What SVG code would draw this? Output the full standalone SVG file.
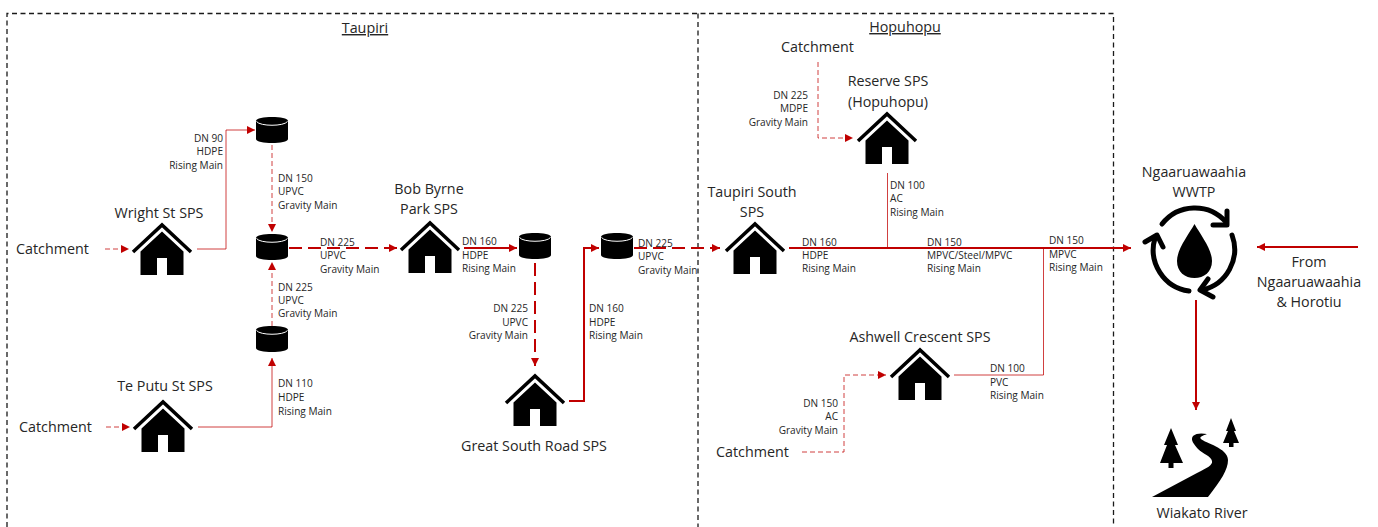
<svg xmlns="http://www.w3.org/2000/svg" width="1378" height="527" viewBox="0 0 1378 527">
<style>
text{font-family:"Open Sans","Noto Sans","Liberation Sans",sans-serif;fill:#262626}
.l{font-size:14.3px}
.s{font-size:10.1px;fill:#404040}
.e{text-anchor:end}
.m{text-anchor:middle}
.box{fill:none;stroke:#1a1a1a;stroke-width:1.3;stroke-dasharray:5 3.5}
.c{fill:none;stroke:#c00000}
.t1{stroke-width:1;stroke-opacity:.75}
.t2{stroke-width:2}
.d1{stroke-dasharray:5 3}
.d2{stroke-dasharray:13 6}
</style>
<defs>
<marker id="a" markerUnits="userSpaceOnUse" markerWidth="10" markerHeight="10" refX="8" refY="4" orient="auto"><path d="M0 0L8 4L0 8Z" fill="#c00000"/></marker>
<symbol id="house" overflow="visible"><path d="M-29 27L0 0L29 27" fill="none" stroke="#000" stroke-width="3.500"/><path fill="#000" d="M0 6.500L21.500 26.500V50H5V33H-5V50H-21.500V26.500Z"/></symbol>
<symbol id="cyl" overflow="visible"><path fill="#000" d="M-16 4C-16 -1.300 16 -1.300 16 4V22C16 27.300 -16 27.300 -16 22Z"/><path d="M-15.500 4.500C-12 9.500 12 9.500 15.500 4.500" fill="none" stroke="#fff" stroke-width="1"/></symbol>
</defs>
<g id="region-boxes">
<path class="box" d="M7 527V13.500H1113.500V527"/>
<path class="box" d="M698 13.500V527"/>
</g>
<g id="connectors">
<path class="c t1 d1" marker-end="url(#a)" d="M105 249H129"/>
<path class="c t1" marker-end="url(#a)" d="M197 249H226V130H255"/>
<path class="c t1 d1" marker-end="url(#a)" d="M272 145V232"/>
<path class="c t1 d1" marker-end="url(#a)" d="M272 326V262"/>
<path class="c t1" marker-end="url(#a)" d="M198 427H272V358"/>
<path class="c t1 d1" marker-end="url(#a)" d="M106 427H130"/>
<path class="c t2 d2" marker-end="url(#a)" d="M289 248H397"/>
<path class="c t2" marker-end="url(#a)" d="M464 248H517"/>
<path class="c t2 d2" marker-end="url(#a)" d="M535 263V366"/>
<path class="c t2" marker-end="url(#a)" d="M569 401H584V248H599"/>
<path class="c t2 d2" marker-end="url(#a)" d="M634 248H720"/>
<path class="c t2" marker-end="url(#a)" d="M789 248H1131"/>
<path class="c t1" d="M887.500 173V248"/>
<path class="c t1" d="M954 375H1043.500V248"/>
<path class="c t1 d1" marker-end="url(#a)" d="M802 452H844V375H886"/>
<path class="c t1 d1" marker-end="url(#a)" d="M818 62V138H853"/>
<path class="c t2" marker-end="url(#a)" d="M1358 247H1257"/>
<path class="c t2" marker-end="url(#a)" d="M1196 300V410"/>
</g>
<g id="labels-regions">
<text class="l m" x="365" y="33" text-decoration="underline">Taupiri</text>
<text class="l m" x="905" y="32" text-decoration="underline">Hopuhopu</text>
</g>
<g id="wright-st-sps"><text class="l m" x="159" y="218">Wright St SPS</text><use href="#house" x="162" y="225"/></g>
<g id="te-putu-st-sps"><text class="l m" x="165" y="391">Te Putu St SPS</text><use href="#house" x="163" y="402"/></g>
<g id="bob-byrne-park-sps"><text class="l m" x="429" y="194">Bob Byrne</text><text class="l m" x="429" y="214">Park SPS</text><use href="#house" x="430" y="223"/></g>
<g id="great-south-road-sps"><use href="#house" x="535" y="376"/><text class="l m" x="534" y="451">Great South Road SPS</text></g>
<g id="taupiri-south-sps"><text class="l m" x="752" y="197">Taupiri South</text><text class="l m" x="752" y="217">SPS</text><use href="#house" x="755" y="224"/></g>
<g id="reserve-sps"><text class="l m" x="888" y="86">Reserve SPS</text><text class="l m" x="888" y="107">(Hopuhopu)</text><use href="#house" x="887" y="114"/></g>
<g id="ashwell-crescent-sps"><text class="l m" x="920" y="342">Ashwell Crescent SPS</text><use href="#house" x="920" y="350"/></g>
<g id="catchments">
<text class="l" x="16" y="254">Catchment</text>
<text class="l" x="19" y="432">Catchment</text>
<text class="l" x="781" y="52">Catchment</text>
<text class="l" x="716" y="457">Catchment</text>
</g>
<g id="chamber-1"><use href="#cyl" x="272" y="117"/></g>
<g id="chamber-2"><use href="#cyl" x="272" y="234"/></g>
<g id="chamber-3"><use href="#cyl" x="272" y="326"/></g>
<g id="chamber-4"><use href="#cyl" x="535" y="233"/></g>
<g id="chamber-5"><use href="#cyl" x="617" y="233"/></g>
<g id="ngaaruawaahia-wwtp">
<text class="l m" x="1194" y="177">Ngaaruawaahia</text><text class="l m" x="1194" y="197">WWTP</text>
<path fill="#000" d="M1194.500 224C1200 234 1212 249 1212 261C1212 272 1204 278 1194.500 278C1185 278 1177 272 1177 261C1177 249 1189 234 1194.500 224Z"/>
<g fill="none" stroke="#000" stroke-width="5" stroke-linecap="round" stroke-linejoin="round">
<path d="M1162 224A41.500 41.500 0 0 1 1226 222"/><path d="M1227 211V225H1213"/>
<path d="M1232 235A41.500 41.500 0 0 1 1202 290"/><path d="M1213 297L1200 290L1208 279"/>
<path d="M1189 291A41.500 41.500 0 0 1 1155 238"/><path d="M1145 242L1157 235L1163 247"/>
</g>
</g>
<g id="wiakato-river">
<path fill="#000" d="M1152 497L1197 473C1207 468 1213 465 1212 461C1211 456 1203 454 1198 449C1194 444 1190 440 1193 436C1196 433 1202 433 1207 434C1202 436 1199 437 1201 439C1205 443 1228 448 1228 460C1228 470 1221 480 1208 497Z"/>
<path fill="#000" d="M1171 428L1178 445H1175L1183 463H1173.500V468H1168.500V463H1160L1167 445H1164Z"/>
<path fill="#000" d="M1231 418L1236 431H1234L1239 443H1233.500V447H1229V443H1223L1228 431H1226Z"/>
<text class="l m" x="1202" y="518">Wiakato River</text>
</g>
<g id="from-ngaaruawaahia-horotiu">
<text class="l m" x="1309" y="267">From</text><text class="l m" x="1309" y="287">Ngaaruawaahia</text><text class="l m" x="1309" y="307">&amp; Horotiu</text>
</g>
<g id="pipe-labels">
<g class="s e"><text x="223" y="142">DN 90</text><text x="223" y="155">HDPE</text><text x="223" y="169">Rising Main</text></g>
<g class="s"><text x="278" y="182">DN 150</text><text x="278" y="195">UPVC</text><text x="278" y="209">Gravity Main</text></g>
<g class="s"><text x="320" y="246">DN 225</text><text x="320" y="259">UPVC</text><text x="320" y="273">Gravity Main</text></g>
<g class="s"><text x="278" y="291">DN 225</text><text x="278" y="304">UPVC</text><text x="278" y="317">Gravity Main</text></g>
<g class="s"><text x="278" y="387">DN 110</text><text x="278" y="401">HDPE</text><text x="278" y="415">Rising Main</text></g>
<g class="s"><text x="462" y="245">DN 160</text><text x="462" y="259">HDPE</text><text x="462" y="272">Rising Main</text></g>
<g class="s e"><text x="528" y="312">DN 225</text><text x="528" y="326">UPVC</text><text x="528" y="339">Gravity Main</text></g>
<g class="s"><text x="589" y="312">DN 160</text><text x="589" y="326">HDPE</text><text x="589" y="339">Rising Main</text></g>
<g class="s"><text x="638" y="247">DN 225</text><text x="638" y="260">UPVC</text><text x="638" y="274">Gravity Main</text></g>
<g class="s e"><text x="808" y="99">DN 225</text><text x="808" y="112">MDPE</text><text x="808" y="126">Gravity Main</text></g>
<g class="s"><text x="890" y="189">DN 100</text><text x="890" y="202">AC</text><text x="890" y="216">Rising Main</text></g>
<g class="s"><text x="802" y="246">DN 160</text><text x="802" y="259">HDPE</text><text x="802" y="272">Rising Main</text></g>
<g class="s"><text x="927" y="246">DN 150</text><text x="927" y="259">MPVC/Steel/MPVC</text><text x="927" y="272">Rising Main</text></g>
<g class="s"><text x="1049" y="244">DN 150</text><text x="1049" y="258">MPVC</text><text x="1049" y="271">Rising Main</text></g>
<g class="s"><text x="990" y="372">DN 100</text><text x="990" y="386">PVC</text><text x="990" y="399">Rising Main</text></g>
<g class="s e"><text x="838" y="407">DN 150</text><text x="838" y="420">AC</text><text x="838" y="434">Gravity Main</text></g>
</g>
</svg>
